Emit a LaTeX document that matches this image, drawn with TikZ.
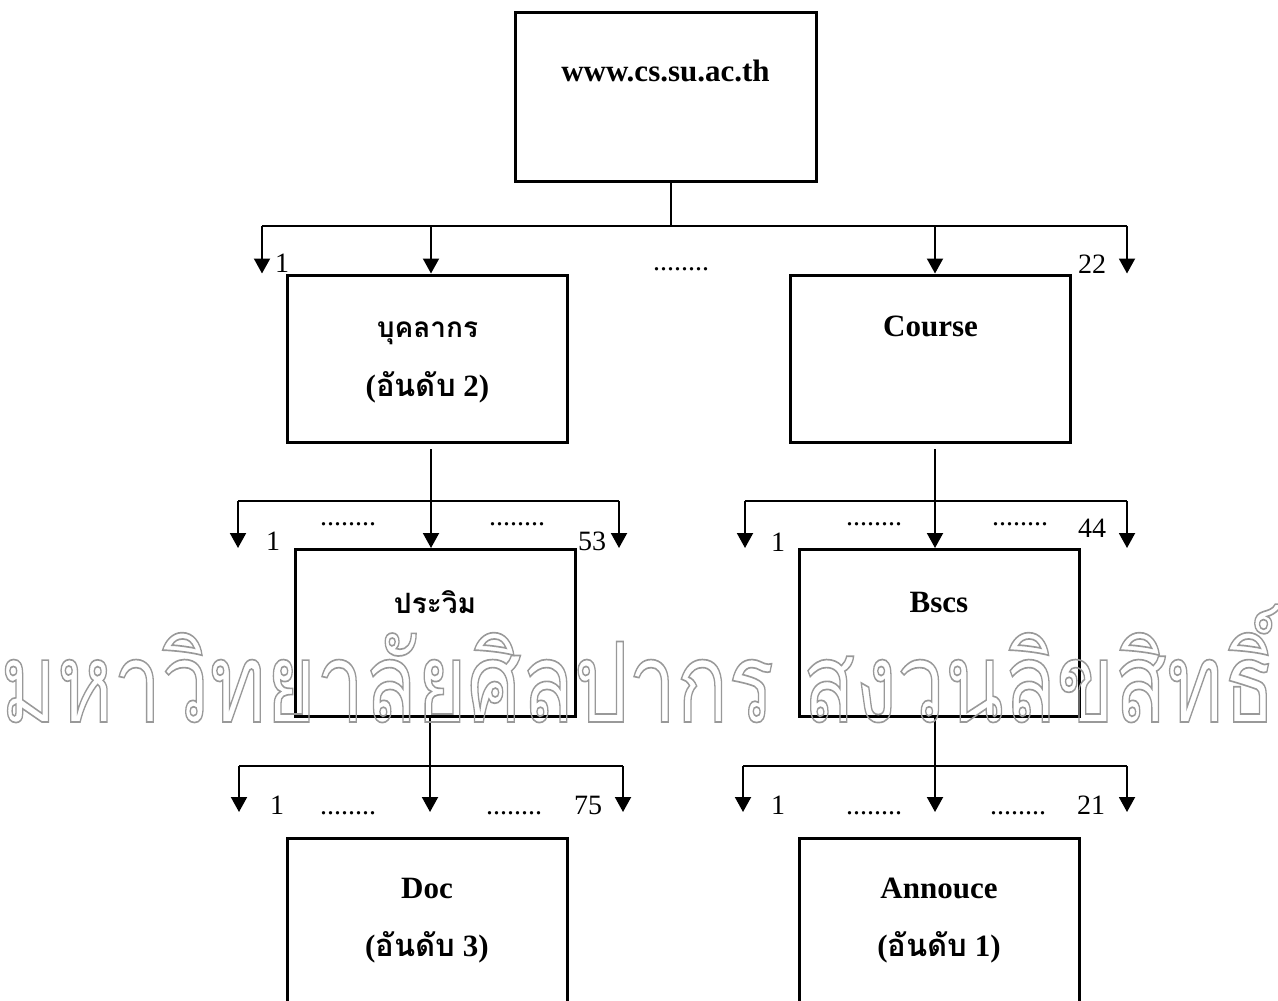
\documentclass[tikz,border=0pt]{standalone}
\usepackage{fontspec}
\setmainfont{Liberation Serif}
\newfontfamily\thaifont[Script=Thai]{Loma}
\usetikzlibrary{positioning}
\usetikzlibrary{arrows.meta}

\newcommand{\rankno}[1]{({\thaifont อันดับ} #1)}
\newcommand{\outlinetext}[1]{\special{pdf:literal direct 1 Tr 0.6 w}#1\special{pdf:literal direct 0 Tr}}

\begin{document}
\begin{tikzpicture}[x=0.5pt,y=-0.5pt]
		\tikzstyle{every node}+=[inner sep=0pt]
		\tikzstyle{page}=[draw, line width=1.5pt, minimum width=140pt, minimum height=83.5pt]
		\tikzstyle{title}=[font=\fontsize{15.5}{18}\selectfont\bfseries]
		\tikzstyle{thtitle}=[font=\fontsize{14}{18}\selectfont\bfseries\thaifont]
		\tikzstyle{num}=[font=\fontsize{14}{16}\selectfont]
		\tikzstyle{link}=[line width=1pt]
		\tikzstyle{arr}=[line width=1pt, -{Triangle[width=8pt,length=7.5pt]}]
		\useasboundingbox (0,0) rectangle (1278,1000);
		% pages
		\node [page, minimum width=150.5pt, minimum height=84.5pt] (root) at (665.5,97.5) {};
		\node [page] (staff) at (427.5,358.5) {};
		\node [page] (course) at (930.5,358.5) {};
		\node [page] (prawim) at (435,633) {};
		\node [page] (bscs) at (939,633) {};
		\node [page] (doc) at (427,921.5) {};
		\node [page] (annouce) at (939,921.5) {};
		% page titles
		\node [title] (rootname) at ([yshift=-29.5pt]root.north) {www.cs.su.ac.th};
		\node [thtitle] (staffname) at ([yshift=-30pt]staff.north) {บุคลากร};
		\node [title] (staffrank) at ([yshift=-57pt]staff.north) {\rankno{2}};
		\node [title] (coursename) at ([yshift=-26.5pt]course.north) {Course};
		\node [thtitle] (prawimname) at ([yshift=-27pt]prawim.north) {ประวิม};
		\node [title] (bscsname) at ([yshift=-27pt]bscs.north) {Bscs};
		\node [title] (docname) at ([yshift=-26pt]doc.north) {Doc};
		\node [title] (docrank) at ([yshift=-55.5pt]doc.north) {\rankno{3}};
		\node [title] (annoucename) at ([yshift=-26pt]annouce.north) {Annouce};
		\node [title] (annoucerank) at ([yshift=-55.5pt]annouce.north) {\rankno{1}};
		% level 1
		\coordinate (t0) at (671,226);
		\coordinate (t1) at (262,226);
		\coordinate (t2) at (431,226);
		\coordinate (t3) at (935,226);
		\coordinate (t4) at (1127,226);
		\draw [link] (root.south -| t0) -- (t0);
		\draw [link] (t1) -- (t4);
		\draw [arr] (t1) -- (t1 |- staff.north);
		\draw [arr] (t2) -- (t2 |- staff.north);
		\draw [arr] (t3) -- (t3 |- course.north);
		\draw [arr] (t4) -- (t4 |- course.north);
		\node [num] (t1no) at (282,263) {1};
		\node [num] (t0dots) at (681,269) {........};
		\node [num] (t4no) at (1092,264) {22};
		% level 2
		\coordinate (u0) at (431,449);
		\coordinate (u1) at (238,501);
		\coordinate (u2) at (619,501);
		\draw [arr] (u0) -- (u0 |- prawim.north);
		\draw [link] (u1) -- (u2);
		\draw [arr] (u1) -- (u1 |- prawim.north);
		\draw [arr] (u2) -- (u2 |- prawim.north);
		\coordinate (v0) at (935,449);
		\coordinate (v1) at (745,501);
		\coordinate (v2) at (1127,501);
		\draw [arr] (v0) -- (v0 |- bscs.north);
		\draw [link] (v1) -- (v2);
		\draw [arr] (v1) -- (v1 |- bscs.north);
		\draw [arr] (v2) -- (v2 |- bscs.north);
		\node [num] (u1no) at (273,541) {1};
		\node [num] (u1dots) at (348,524) {........};
		\node [num] (u2dots) at (517,524) {........};
		\node [num] (u2no) at (592,541) {53};
		\node [num] (v1no) at (778,542) {1};
		\node [num] (v1dots) at (874,524) {........};
		\node [num] (v2dots) at (1020,524) {........};
		\node [num] (v2no) at (1092,528) {44};
		% level 3
		\coordinate (w0) at (430,812);
		\coordinate (w1) at (239,766);
		\coordinate (w2) at (623,766);
		\draw [arr] (prawim.south -| w0) -- (w0);
		\draw [link] (w1) -- (w2);
		\draw [arr] (w1) -- (w1 |- w0);
		\draw [arr] (w2) -- (w2 |- w0);
		\coordinate (x0) at (935,812);
		\coordinate (x1) at (743,766);
		\coordinate (x2) at (1127,766);
		\draw [arr] (bscs.south -| x0) -- (x0);
		\draw [link] (x1) -- (x2);
		\draw [arr] (x1) -- (x1 |- x0);
		\draw [arr] (x2) -- (x2 |- x0);
		\node [num] (w1no) at (277,805) {1};
		\node [num] (w1dots) at (348,813) {........};
		\node [num] (w2dots) at (514,813) {........};
		\node [num] (w2no) at (588,805) {75};
		\node [num] (x1no) at (778,805) {1};
		\node [num] (x1dots) at (874,813) {........};
		\node [num] (x2dots) at (1018,813) {........};
		\node [num] (x2no) at (1091,805) {21};
		% watermark
		\node [anchor=base, text=black!40] (stamp) at (638,722) {\scalebox{1}[1.3]{\resizebox{637.5pt}{!}{\fontsize{40}{40}\selectfont\thaifont\outlinetext{มหาวิทยาลัยศิลปากร สงวนลิขสิทธิ์}}}};
\end{tikzpicture}
\end{document}
